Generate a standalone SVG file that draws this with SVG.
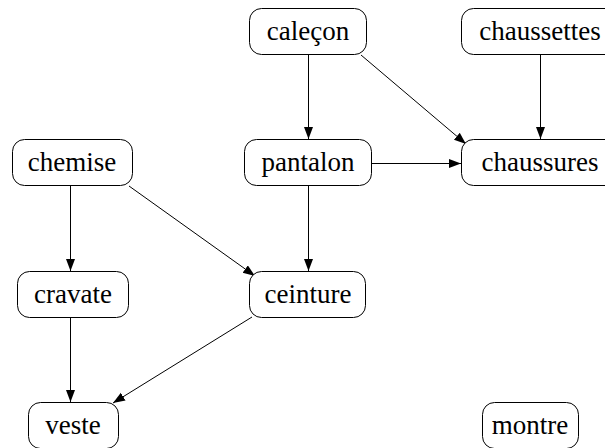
<svg xmlns="http://www.w3.org/2000/svg" width="605" height="448" viewBox="0 0 605 448">
<style>
.n rect{fill:#fff;stroke:#000;stroke-width:1}
.n text{font-family:"Liberation Serif","Times New Roman",serif;font-size:27px;text-anchor:middle;fill:#000}
.e line{stroke:#000;stroke-width:1;fill:none;marker-end:url(#a)}
</style>
<defs>
<marker id="a" markerUnits="userSpaceOnUse" markerWidth="13" markerHeight="10" refX="12" refY="4.5" orient="auto" viewBox="0 0 13 10">
<path d="M0,0 L12,4.5 L0,9 z" fill="#000"/>
</marker>
</defs>
<rect width="605" height="448" fill="#fff"/>
<g class="e">
<line x1="308.5" y1="55" x2="308.5" y2="139"/>
<line x1="361" y1="55" x2="466" y2="144"/>
<line x1="540.5" y1="55" x2="540.5" y2="139"/>
<line x1="372" y1="163.5" x2="461" y2="163.5"/>
<line x1="129" y1="186" x2="255" y2="276"/>
<line x1="70.5" y1="186" x2="70.5" y2="271"/>
<line x1="308.5" y1="186" x2="308.5" y2="271"/>
<line x1="70.5" y1="318" x2="70.5" y2="402"/>
<line x1="252" y1="317" x2="113" y2="403"/>
</g>
<g id="calecon" class="n"><rect x="249.5" y="8.5" width="117" height="46" rx="12"/><text x="308" y="40">caleçon</text></g>
<g id="chaussettes" class="n"><rect x="461.5" y="8.5" width="158" height="46" rx="12"/><text x="540" y="40">chaussettes</text></g>
<g id="chemise" class="n"><rect x="12.5" y="139.5" width="120" height="46" rx="12"/><text x="72" y="171">chemise</text></g>
<g id="pantalon" class="n"><rect x="244.5" y="139.5" width="127" height="46" rx="12"/><text x="308" y="171">pantalon</text></g>
<g id="chaussures" class="n"><rect x="461.5" y="139.5" width="158" height="46" rx="12"/><text x="540" y="171">chaussures</text></g>
<g id="cravate" class="n"><rect x="17.5" y="271.5" width="111" height="46" rx="12"/><text x="73" y="303">cravate</text></g>
<g id="ceinture" class="n"><rect x="249.5" y="271.5" width="116" height="46" rx="12"/><text x="308" y="303">ceinture</text></g>
<g id="veste" class="n"><rect x="28.5" y="402.5" width="90" height="46" rx="12"/><text x="73" y="434">veste</text></g>
<g id="montre" class="n"><rect x="482.5" y="402.5" width="96" height="46" rx="12"/><text x="530" y="434">montre</text></g>
</svg>
